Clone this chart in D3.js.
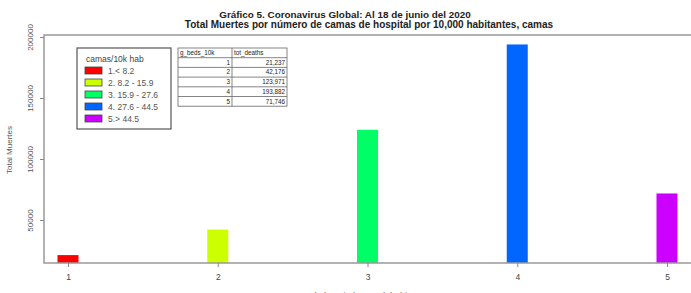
<!DOCTYPE html>
<html>
<head>
<meta charset="utf-8">
<script src="https://cdn.jsdelivr.net/npm/d3@7"></script>
<style>
  body { margin: 0; background: #fff; }
  svg { display: block; font-family: "Liberation Sans", Arial, sans-serif; }
</style>
</head>
<body>
<div id="canvas"></div>
<script>
const groups = [1, 2, 3, 4, 5];
const deaths = [21237, 42176, 123971, 193882, 71746];
const deathLabels = ["21,237", "42,176", "123,971", "193,882", "71,746"];
const colors = ["#ff0000", "#ccff00", "#00ff66", "#0066ff", "#cc00ff"];
const legendLabels = ["1.< 8.2", "2. 8.2 - 15.9", "3. 15.9 - 27.6", "4. 27.6 - 44.5", "5.> 44.5"];
const yTicks = [50000, 100000, 150000, 200000];

const W = 691, H = 293;
const svg = d3.select("#canvas").append("svg")
  .attr("width", W).attr("height", H);

// plot frame
const plotLeft = 44, plotTop = 35, plotBottom = 263;
const x = d3.scaleLinear().domain([1, 5]).range([68, 667]);
const y = d3.scaleLinear().domain([50000, 200000]).range([220, 37]);

svg.append("defs").append("clipPath").attr("id", "plotclip")
  .append("rect").attr("x", plotLeft).attr("y", plotTop)
  .attr("width", W - plotLeft).attr("height", plotBottom - plotTop);

// bars
svg.append("g").attr("clip-path", "url(#plotclip)")
  .selectAll("rect").data(groups).enter().append("rect")
  .attr("x", d => x(d) - 10.5)
  .attr("width", 21)
  .attr("y", (d, i) => y(deaths[i]))
  .attr("height", (d, i) => plotBottom + 5 - y(deaths[i]))
  .attr("fill", (d, i) => colors[i]);

// frame lines
svg.append("path")
  .attr("d", `M${W},${plotTop}H${plotLeft}V${plotBottom}H${W}`)
  .attr("fill", "none").attr("stroke", "#999").attr("stroke-width", 1.5);

// y axis
const yAxis = d3.axisLeft(y).tickValues(yTicks).tickSize(4).tickFormat(d3.format("d"));
const gy = svg.append("g").attr("transform", `translate(${plotLeft},0)`).call(yAxis);
gy.select(".domain").remove();
gy.selectAll(".tick line").attr("stroke", "#888");
gy.selectAll(".tick text")
  .attr("x", null).attr("dy", null)
  .attr("transform", "translate(-11,0) rotate(-90)")
  .attr("text-anchor", "middle")
  .attr("fill", "#555").attr("font-size", 8);

svg.append("text")
  .attr("transform", "translate(12,150) rotate(-90)")
  .attr("text-anchor", "middle").attr("font-size", 8).attr("fill", "#555")
  .text("Total Muertes");

// x axis
const xAxis = d3.axisBottom(x).tickValues(groups).tickSize(4).tickFormat(d3.format("d"));
const gx = svg.append("g").attr("transform", `translate(0,${plotBottom})`).call(xAxis);
gx.select(".domain").remove();
gx.selectAll(".tick line").attr("stroke", "#888");
gx.selectAll(".tick text").attr("y", 11).attr("font-size", 8.5).attr("fill", "#444");

// x title, cut by the bottom edge as in the original
svg.append("text")
  .attr("x", 356).attr("y", 299).attr("text-anchor", "middle")
  .attr("font-size", 9).attr("fill", "#666")
  .text("Camas de hospital por 10k habitantes");

// title
svg.append("text").attr("x", 345).attr("y", 18).attr("text-anchor", "middle")
  .attr("font-size", 9.9).attr("font-weight", "bold").attr("fill", "#222")
  .text("Gráfico 5. Coronavirus Global: Al 18 de junio del 2020");
svg.append("text").attr("x", 369).attr("y", 28).attr("text-anchor", "middle")
  .attr("font-size", 10).attr("font-weight", "bold").attr("fill", "#222")
  .text("Total Muertes por número de camas de hospital por 10,000 habitantes, camas");

// legend
const lg = svg.append("g");
lg.append("rect").attr("x", 77).attr("y", 48).attr("width", 94).attr("height", 81)
  .attr("fill", "#fff").attr("stroke", "#555").attr("stroke-width", 1.2);
lg.append("text").attr("x", 86).attr("y", 62).attr("font-size", 8.5).attr("fill", "#444")
  .text("camas/10k hab");
const items = lg.selectAll("g.item").data(legendLabels).enter().append("g").attr("class", "item")
  .attr("transform", (d, i) => `translate(85,${67 + i * 12})`);
items.append("rect").attr("width", 17).attr("height", 7)
  .attr("fill", (d, i) => colors[i]).attr("stroke", "#444").attr("stroke-width", 0.8);
items.append("text").attr("x", 23).attr("y", 7).attr("font-size", 8.5).attr("fill", "#555")
  .text(d => d);

// data table
const tb = svg.append("g");
const tx0 = 178, tx1 = 232, tx2 = 287, ty0 = 48, rowH = 9.7;
tb.append("rect").attr("x", tx0).attr("y", ty0).attr("width", tx2 - tx0).attr("height", rowH * 6)
  .attr("fill", "#fff").attr("stroke", "#666").attr("stroke-width", 0.8);
tb.append("line").attr("x1", tx1).attr("x2", tx1).attr("y1", ty0).attr("y2", ty0 + rowH * 6)
  .attr("stroke", "#666").attr("stroke-width", 0.8);
for (let i = 1; i < 6; i++) {
  tb.append("line").attr("x1", tx0).attr("x2", tx2).attr("y1", ty0 + rowH * i).attr("y2", ty0 + rowH * i)
    .attr("stroke", "#666").attr("stroke-width", 0.8);
}
tb.append("text").attr("x", tx0 + 2).attr("y", ty0 + 7).attr("font-size", 6.3).attr("fill", "#222").text("g_beds_10k");
tb.append("text").attr("x", tx1 + 2).attr("y", ty0 + 7).attr("font-size", 6.3).attr("fill", "#222").text("tot_deaths");
groups.forEach((g, i) => {
  tb.append("text").attr("x", tx1 - 2).attr("y", ty0 + rowH * (i + 1) + 7)
    .attr("text-anchor", "end").attr("font-size", 6.3).attr("fill", "#222").text(g);
  tb.append("text").attr("x", tx2 - 2).attr("y", ty0 + rowH * (i + 1) + 7)
    .attr("text-anchor", "end").attr("font-size", 6.3).attr("fill", "#222").text(deathLabels[i]);
});
</script>
</body>
</html>
